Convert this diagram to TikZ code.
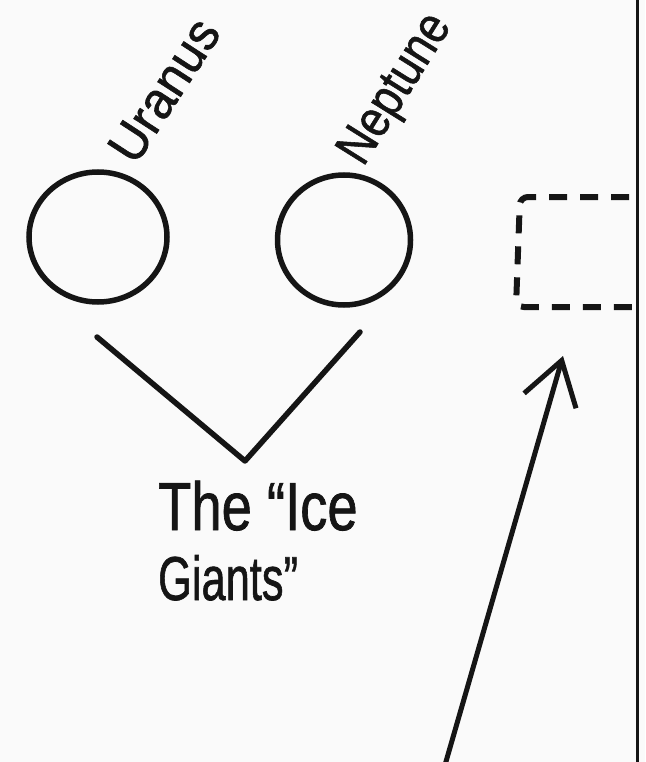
\documentclass[tikz,border=0pt]{standalone}
\usepackage{fontspec}
\setmainfont{Liberation Sans}
\newfontfamily\handfont[FakeBold=1.2]{Liberation Sans}
\usetikzlibrary{shapes.geometric,arrows.meta}
\definecolor{bgc}{HTML}{FAFAFA}
\definecolor{ink}{HTML}{151515}
\begin{document}
\begin{tikzpicture}[x=1pt,y=-1pt,
  planet/.style={draw=ink, ellipse, line width=5.5pt, inner sep=0pt},
  lbl/.style={text=ink, inner sep=0pt, font=\handfont\fontsize{52}{60}\selectfont},
  hand/.style={text=ink, inner sep=0pt, anchor=base west},
  stroke/.style={draw=ink, line width=5.5pt, line cap=round, line join=round},
  dashbox/.style={draw=ink, line width=6pt, dash pattern=on 18pt off 13pt, rounded corners=8pt},
  ptr/.style={draw=ink, line width=5pt, line cap=round, -{Straight Barb[length=42pt,width=54pt,line width=5pt]}}]
\useasboundingbox (0,0) rectangle (645,762);
\fill[bgc] (0,0) rectangle (645,762);
% planets
\node[planet, minimum width=138pt, minimum height=130pt] (uranus) at (98,237) {};
\node[planet, minimum width=133pt, minimum height=130pt] (neptune) at (344,240) {};
% labels
\node[lbl, rotate=57, xscale=0.95] (ulabel) at (164,90) {Uranus};
\node[lbl, rotate=58, xscale=0.85] (nlabel) at (397,90) {Neptune};
% V shape
\coordinate (vl) at (97,337);
\coordinate (vb) at (245,461);
\coordinate (vr) at (360,332);
\draw[stroke] (vl) -- (vb) -- (vr);
% caption
\node[hand, font=\handfont\fontsize{68}{70}\selectfont, xscale=0.8] (ice1) at (158,530) {The “Ice};
\node[hand, font=\handfont\fontsize{62}{70}\selectfont, xscale=0.7] (ice2) at (158,600) {Giants”};
% dashed box cut by border
\begin{scope}
\clip (0,0) rectangle (637,762);
\coordinate (b1) at (660,197);
\coordinate (b2) at (520,197);
\coordinate (b3) at (516,307);
\coordinate (b4) at (660,307);
\draw[dashbox] (b1) -- (b2) -- (b3) -- (b4);
\end{scope}
% arrow
\coordinate (tail) at (445,765);
\coordinate (tip) at (563,356);
\draw[ptr] (tail) -- (tip);
% right border
\coordinate (bt) at (637,0);
\coordinate (bb) at (637,762);
\draw[ink, line width=3pt] (bt) -- (bb);
\end{tikzpicture}
\end{document}
